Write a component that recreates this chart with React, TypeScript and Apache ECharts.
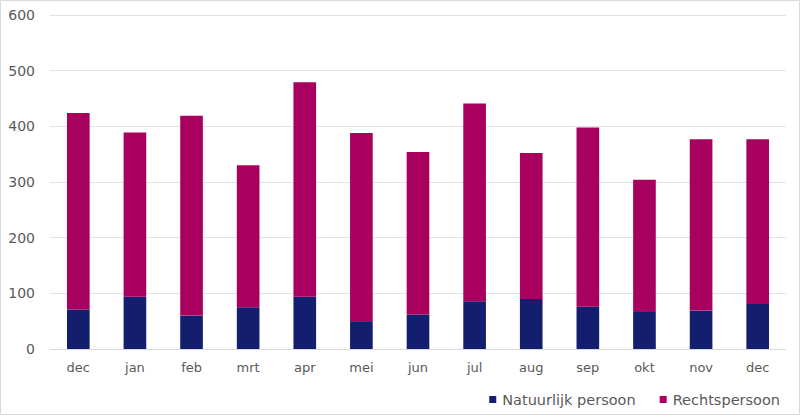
import React, { useEffect, useRef } from "react";
import * as echarts from "echarts";

const categories = ["dec", "jan", "feb", "mrt", "apr", "mei", "jun", "jul", "aug", "sep", "okt", "nov", "dec"];
const natuurlijk = [71, 94, 60, 75, 94, 50, 62, 86, 90, 76, 68, 69, 81];
const totals = [424, 389, 419, 330, 479, 388, 354, 441, 352, 398, 304, 377, 377];
const rechts = totals.map((t, i) => t - natuurlijk[i]);
const yTicks = [0, 100, 200, 300, 400, 500, 600];

const FONT = "DejaVu Sans";

export default function App() {
  const ref = useRef<HTMLDivElement>(null);
  useEffect(() => {
    if (!ref.current) return;
    const chart = echarts.init(ref.current, undefined, { renderer: "svg" });
    chart.setOption({
      animation: false,
      backgroundColor: "#ffffff",
      textStyle: { fontFamily: FONT },
      graphic: [
        {
          type: "rect",
          shape: { x: 0.5, y: 0.5, width: 799, height: 414 },
          style: { fill: "none", stroke: "#d9d9d9", lineWidth: 1 },
          silent: true,
        },
      ],
      grid: { left: 50, right: 14, top: 15, bottom: 66, containLabel: false },
      legend: {
        right: 15,
        top: 387,
        itemWidth: 7,
        itemHeight: 7,
        itemGap: 24,
        icon: "rect",
        textStyle: { fontFamily: FONT, fontSize: 14.5, color: "#595959", padding: [0, 0, 0, 1] },
        data: ["Natuurlijk persoon", "Rechtspersoon"],
      },
      xAxis: {
        type: "category",
        data: categories,
        axisTick: { show: false },
        axisLine: { lineStyle: { color: "#d9d9d9" } },
        axisLabel: { color: "#595959", fontSize: 13, fontFamily: FONT, margin: 12 },
      },
      yAxis: {
        type: "value",
        min: yTicks[0],
        max: yTicks[yTicks.length - 1],
        interval: 100,
        axisLine: { show: false },
        axisTick: { show: false },
        splitLine: { lineStyle: { color: "#e3e3e3" } },
        axisLabel: { color: "#595959", fontSize: 14, fontFamily: FONT, margin: 15 },
      },
      series: [
        {
          name: "Natuurlijk persoon",
          type: "bar",
          stack: "total",
          data: natuurlijk,
          barCategoryGap: "60%",
          itemStyle: { color: "#141e6e" },
        },
        {
          name: "Rechtspersoon",
          type: "bar",
          stack: "total",
          data: rechts,
          barCategoryGap: "60%",
          itemStyle: { color: "#a8005f" },
        },
      ],
    });
    return () => chart.dispose();
  }, []);
  return (
    <div
      ref={ref}
      style={{ position: "absolute", left: 0, top: 0, width: 800, height: 415 }}
    />
  );
}
